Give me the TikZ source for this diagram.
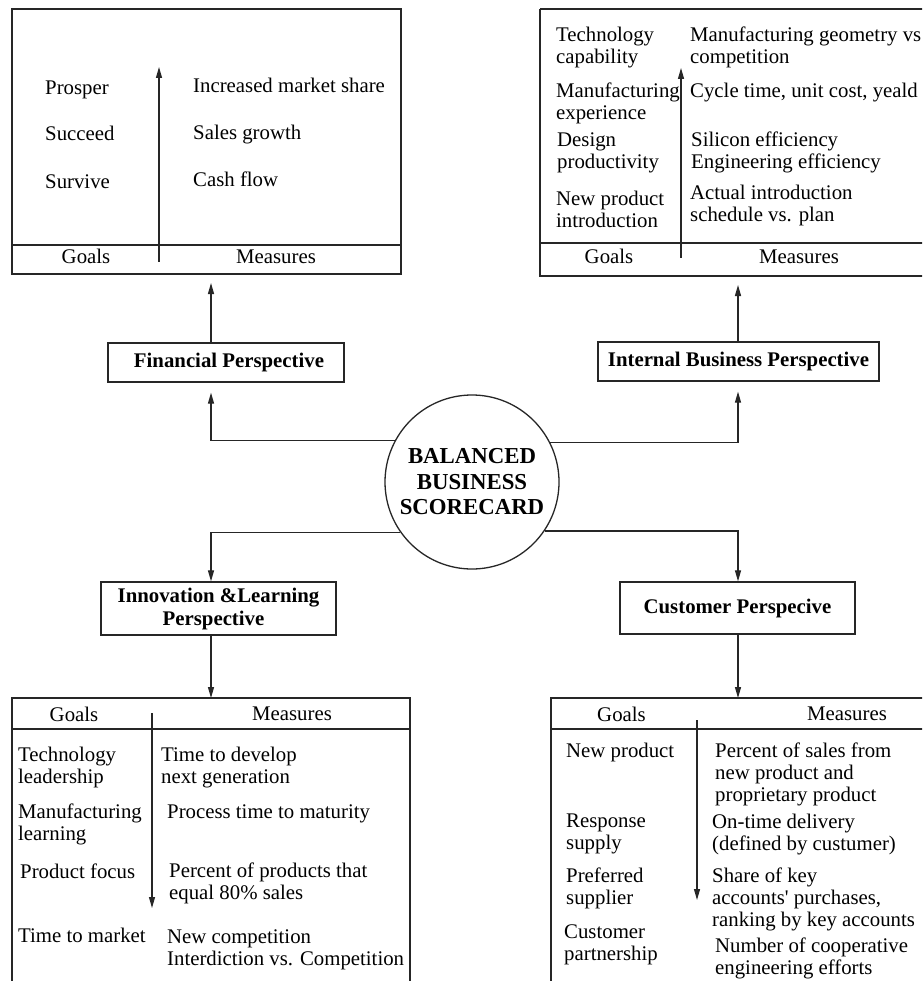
\documentclass[tikz,border=0pt]{standalone}
\usepackage{fontspec}
\setmainfont{Liberation Serif}
\usetikzlibrary{arrows.meta,calc}
\newcommand\bodyfont{\fontsize{20.8}{22}\selectfont}
\newcommand\headfont{\fontsize{20.8}{23}\selectfont\bfseries}
\newcommand\hubfont{\fontsize{22.8}{25.5}\selectfont\bfseries}
\newcommand\stackl[1]{\begin{tabular}[t]{@{}l@{}}#1\end{tabular}}
\tikzset{
  ink/.style={draw=black!85, line width=1.3pt},
  txt/.style={font=\bodyfont, inner sep=0pt, anchor=base west},
  ctxt/.style={font=\bodyfont, inner sep=0pt, anchor=base},
  persp/.style={ink, rectangle, font=\headfont, align=center, inner sep=0pt},
  hub/.style={ink, circle, minimum size=174pt, inner sep=0pt, font=\hubfont, align=center},
  arr/.style={draw=black!85, line width=1.2pt, -{Triangle[length=11pt,width=6pt]}},
}
\begin{document}
\begin{tikzpicture}[x=1pt,y=-1pt]
\useasboundingbox (0,0) rectangle (922,981);
\clip (0,0) rectangle (922,981);
\fill[white] (0,0) rectangle (922,981);

% columns of the vertical connectors
\coordinate (colL) at (211,0);
\coordinate (colR) at (738,0);

% ---------- Financial panel (top left)
\draw[ink] (12,9) rectangle (401,274);
\draw[ink] (12,245) -- (401,245);
\coordinate (finPanel) at (211,274);
\node[txt] (fg1) at (45,95) {Prosper};
\node[txt] (fg2) at (45,141) {Succeed};
\node[txt] (fg3) at (45,189) {Survive};
\node[txt] (fm1) at (193,93) {Increased market share};
\node[txt] (fm2) at (193,140) {Sales growth};
\node[txt] (fm3) at (193,187) {Cash flow};
\node[ctxt] (fh1) at (86,264) {Goals};
\node[ctxt] (fh2) at (276,264) {Measures};
\coordinate (fa0) at (159,262);
\coordinate (fa1) at (159,67);
\draw[arr] (fa0) -- (fa1);

% ---------- Internal business panel (top right)
\draw[ink] (540,9) -- (930,9);
\draw[ink] (540,9) -- (540,276) -- (930,276);
\draw[ink] (540,243) -- (930,243);
\coordinate (ibpPanel) at (738,276);
\node[txt] (ig1) at (556,42) {\stackl{Technology\\capability}};
\node[txt] (ig2) at (556,98) {\stackl{Manufacturing\\experience}};
\node[txt] (ig3) at (557,147) {\stackl{Design\\productivity}};
\node[txt] (ig4) at (556,206) {\stackl{New product\\introduction}};
\node[txt] (im1) at (690,42) {\stackl{Manufacturing geometry vs\\competition}};
\node[txt] (im2) at (690,98) {Cycle time, unit cost, yeald};
\node[txt] (im3) at (691,147) {\stackl{Silicon efficiency\\Engineering efficiency}};
\node[txt] (im4) at (690,200) {\stackl{Actual introduction\\schedule vs. plan}};
\node[ctxt] (ih1) at (609,264) {Goals};
\node[ctxt] (ih2) at (799,264) {Measures};
\coordinate (ia0) at (681,258);
\coordinate (ia1) at (681,68);
\draw[arr] (ia0) -- (ia1);

% ---------- Perspectives and the hub
\node[persp, minimum width=236pt, minimum height=39pt] (fin) at (226,362.5) {\hspace*{6pt}Financial Perspective};
\node[persp, minimum width=281pt, minimum height=39pt] (ibp) at (738.5,361.5) {Internal Business Perspective};
\node[persp, minimum width=235pt, minimum height=53pt] (inl) at (218.5,608.5) {Innovation \&Learning\\Perspective\hspace*{10pt}};
\node[persp, minimum width=235pt, minimum height=52pt] (cus) at (737.5,608) {Customer Perspecive};
\node[hub] (bbs) at (472,482) {BALANCED\\BUSINESS\\SCORECARD};

\draw[arr, shorten >=9pt] (fin.north -| colL) -- (finPanel);
\draw[arr, shorten >=9pt] (ibp.north -| colR) -- (ibpPanel);
\draw[arr, shorten >=10pt] (bbs.152.6) -| (fin.south -| colL);
\draw[arr, shorten >=10pt] (bbs.27.4) -| (ibp.south -| colR);
\draw[arr] (bbs.-145.7) -| (inl.north -| colL);
\draw[arr] (bbs.-34.3) -| (cus.north -| colR);

% ---------- Innovation & learning panel (bottom left)
\coordinate (inlPanel) at (211,698);
\draw[ink] (12,990) -- (12,698) -- (410,698) -- (410,990);
\draw[ink] (12,729) -- (410,729);
\draw[arr] (inl.south -| colL) -- (inlPanel);
\node[ctxt] (lh1) at (74,721) {Goals};
\node[ctxt] (lh2) at (292,720) {Measures};
\node[txt] (lg1) at (18,761) {\stackl{Technology\\leadership}};
\node[txt] (lg2) at (18,818) {\stackl{Manufacturing\\learning}};
\node[txt] (lg3) at (20,878) {Product focus};
\node[txt] (lg4) at (18,942) {Time to market};
\node[txt] (lm1) at (161,761) {\stackl{Time to develop\\next generation}};
\node[txt] (lm2) at (167,818) {Process time to maturity};
\node[txt] (lm3) at (169,877) {\stackl{Percent of products that\\equal 80\% sales}};
\node[txt] (lm4) at (167,943) {\stackl{New competition\\Interdiction vs. Competition}};
\coordinate (la0) at (152,713);
\coordinate (la1) at (152,908);
\draw[arr] (la0) -- (la1);

% ---------- Customer panel (bottom right)
\coordinate (cusPanel) at (738,698);
\draw[ink] (551,990) -- (551,698) -- (930,698);
\draw[ink] (551,729) -- (930,729);
\draw[arr] (cus.south -| colR) -- (cusPanel);
\node[ctxt] (rh1) at (621.5,721) {Goals};
\node[ctxt] (rh2) at (847,720) {Measures};
\node[txt] (rg1) at (566,757) {New product};
\node[txt] (rg2) at (566,827) {\stackl{Response\\supply}};
\node[txt] (rg3) at (566,882) {\stackl{Preferred\\supplier}};
\node[txt] (rg4) at (564,938) {\stackl{Customer\\partnership}};
\node[txt] (rm1) at (715,757) {\stackl{Percent of sales from\\new product and\\proprietary product}};
\node[txt] (rm2) at (712,828) {\stackl{On-time delivery\\(defined by custumer)}};
\node[txt] (rm3) at (712,882) {\stackl{Share of key\\accounts\textquotesingle{} purchases,\\ranking by key accounts}};
\node[txt] (rm4) at (715,952) {\stackl{Number of cooperative\\engineering efforts}};
\coordinate (ra0) at (697,720);
\coordinate (ra1) at (697,900);
\draw[arr] (ra0) -- (ra1);
\end{tikzpicture}
\end{document}
